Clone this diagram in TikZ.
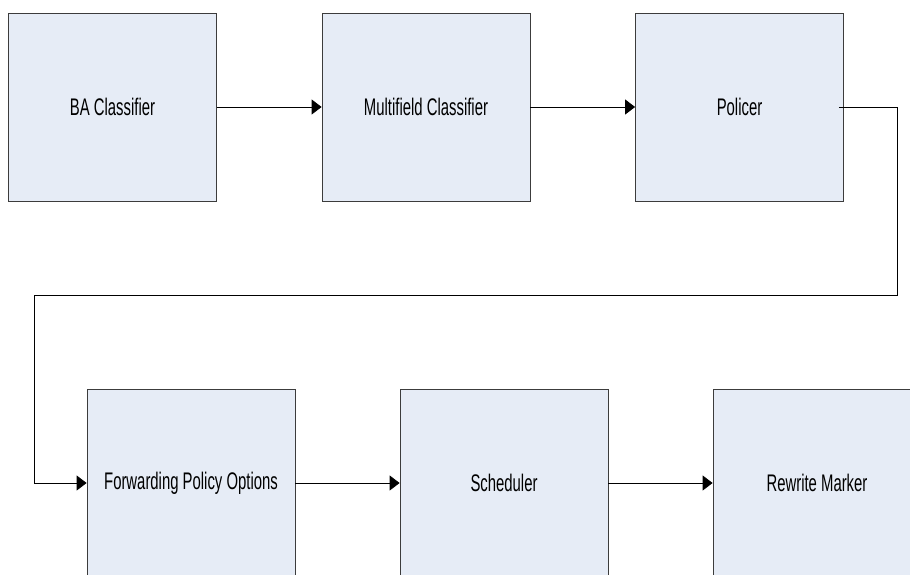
\documentclass[tikz,border=0pt]{standalone}
\usepackage{fontspec}
\setmainfont{Liberation Sans}[FakeStretch=0.62]
\usetikzlibrary{arrows.meta}
\definecolor{boxfill}{RGB}{230,236,246}
\definecolor{boxline}{RGB}{60,60,60}
\tikzset{
  stage/.style={draw=boxline,fill=boxfill,line width=0.8pt,minimum width=208pt,minimum height=188pt,inner sep=0pt,font=\fontsize{24}{28}\selectfont},
  flow/.style={line width=0.8pt,-{Triangle[length=10pt,width=15pt]}}
}
\begin{document}
\begin{tikzpicture}[x=1pt,y=-1pt]
\useasboundingbox (0,0) rectangle (910,574);

\node[stage] (ba) at (112.5,107) {BA Classifier};
\node[stage] (mf) at (426,107) {Multifield Classifier};
\node[stage] (pol) at (739.5,107) {Policer};

\node[stage] (fpo) at (191,483) {Forwarding Policy Options};
\node[stage] (sch) at (504,483) {Scheduler};
\node[stage] (rwm) at (817,483) {Rewrite Marker};

\coordinate (pout) at ([xshift=-5pt]pol.east);
\draw[flow] (ba) -- (mf);
\draw[flow] (mf) -- (pol);
\draw[flow] (pout) -- (897,107) -- (897,295) -- (34,295) -- (34,483) -- (fpo.west);
\draw[flow] (fpo) -- (sch);
\draw[flow] (sch) -- (rwm);
\end{tikzpicture}
\end{document}
